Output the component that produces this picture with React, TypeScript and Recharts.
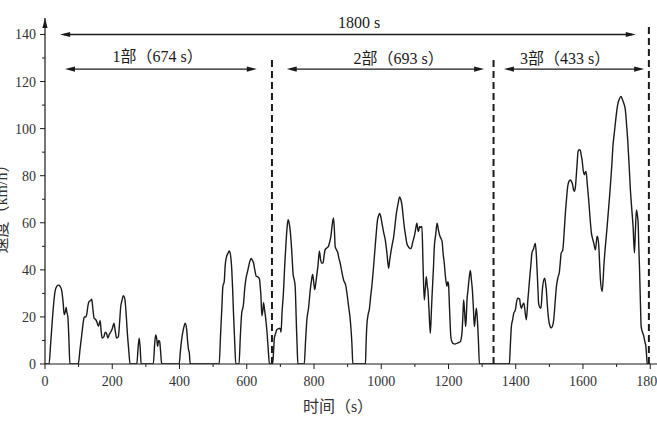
import React from 'react';
import { LineChart, Line, XAxis, YAxis, ReferenceLine, ReferenceDot } from 'recharts';

// ---- data (time s, speed km/h) ----
const part1: [number, number][] = [
  [0,0],[12,0],[17,9],[22,19],[26,26],[30,31],[35,33],[40,33.5],[45,33],[50,31],[54,26],[57,21],[60,22],[63,24],[65,22],[68,20],[71,11],[74,0],
  [99,0],[104,6],[109,12],[114,18],[117,20],[121,20],[124,21],[128,25],[131,26.5],[136,27],[139,27.5],[142,24],[146,19.5],[150,19],[154,18],[159,16],[164,18.5],[167,14],[170,11],[175,11.5],[179,13.5],[183,13],[187,11],[191,12.5],[195,13.5],[200,15],[205,17.3],[209,14],[213,11],[218,11.5],[222,18],[225,24],[229,27],[233,29],[237,28],[241,22],[245,13],[249,6],[253,0],
  [273,0],[277,7],[280,11],[283,7],[286,0],
  [322,0],[326,8],[329,12.3],[332,11],[335,7.5],[338,10],[341,9.5],[344,5],[347,0],
  [399,0],[403,6],[407,11],[412,15],[417,17.3],[421,15],[424,10],[427,6],[429,5],[432,0],
  [518,0],[522,12],[526,24],[529,33],[533,35],[536,42],[539,45],[544,47],[548,48],[552,46],[555.5,40],[558,32],[560.5,22],[564,10],[567.5,0],
  [577,0],[581,12],[585,21.5],[590,25],[594,32],[598,36.6],[602,39],[605,41],[609,43.5],[613,44.8],[617,44],[620,43],[624,40],[628,37.3],[633,37],[638,36],[640,33],[642,29.5],[645,20.5],[648,23],[650,26],[653,23],[655,21],[658,17],[660,14],[664,6],[667.5,0],
];

const part2: [number, number][] = [
  [677,0],[680,6],[682,11],[686,13],[689,14.5],[694,15],[699,15.2],[702,13.5],[705,22],[709,30],[713,42],[717,52],[720,58],[723,61.3],[726,60],[729,57],[732,52],[735,45],[738,38],[741,36],[744,33],[746,25],[748,15],[750,7],[752,0],
  [771,0],[775,10],[779,19],[784,24],[789,31.6],[793,36],[796,38],[799,35],[802,31.6],[805,34],[808,37.3],[812,42],[816,47.9],[820,44],[823,42.8],[827,43],[830,46],[833,48.5],[838,49.3],[843,50],[847,52],[850,54],[854,59],[858,62],[861,56],[863,50],[867,48.5],[870,47.7],[874,45],[878,42.8],[883,39],[888,35.7],[895,33],[899,29],[903,24.4],[907,20],[910,15],[913,8],[915.5,0],
  [953,0],[955,9],[957,16],[961,21],[965,23.7],[968,28],[972,33],[977,41],[982,50],[986,57],[989,61.2],[992,63],[995,64],[998,63],[1002,60],[1007,56],[1012,52.7],[1017,47],[1022,40.7],[1025,44],[1029,47.7],[1033,51],[1037,54],[1041,59],[1045,64],[1050,68],[1054.5,71],[1058,70],[1061.5,67.6],[1065,63],[1068.5,58.4],[1072,55],[1076,51.3],[1080,50],[1084,49.2],[1088,49],[1091,50],[1094,52],[1098,54],[1102,57],[1106,59.8],[1109,57],[1111,56.3],[1114,58.4],[1118,58],[1121,58.4],[1124,44],[1128,27.2],[1131,32],[1134,37.1],[1137,33],[1139,31],[1142,23],[1146,13],[1149,22],[1151,28.6],[1155,40],[1158,50],[1162,55],[1166,59.8],[1170,57],[1173.5,54.8],[1177,53.5],[1181,52],[1184,47],[1187.5,42.8],[1191,37],[1195.5,33],[1198,35],[1200,34],[1203,24],[1207,11.6],[1210,9.5],[1213,8.8],[1220,8.5],[1228,9],[1235,9.5],[1240,13],[1243,21],[1245,27.2],[1248,22],[1251,15.9],[1253,20],[1255,27],[1258,31.5],[1262,37],[1265,39.7],[1268,36],[1271,31.5],[1274,24],[1277,15.9],[1280,20],[1283,23.7],[1286,18.7],[1289,10],[1292,0],
];

const part3: [number, number][] = [
  [1381,0],[1384,8],[1387,15.9],[1391,19],[1394,21.5],[1399,23],[1402,26],[1406,28],[1411.5,27.5],[1414,25],[1417,23.7],[1420,25],[1424,25.8],[1428,22],[1431.5,18.8],[1436,27],[1441,35.7],[1445,42],[1448,47],[1453,49],[1458,51.3],[1461,47],[1463,41.4],[1466,32],[1468,25.8],[1472,24],[1475,23.7],[1478,29],[1480,32.9],[1486,36.4],[1489,34],[1491,31.5],[1494,25],[1498,18.8],[1502,16],[1505,15.3],[1509,16],[1513,18.8],[1517,26],[1521,32.9],[1526,37],[1530,39.3],[1533,44],[1535,47],[1540,48.5],[1544,56],[1547.6,64],[1551,70],[1554.5,75.4],[1558,77.5],[1562.5,78.2],[1566,77.5],[1569,76.3],[1572,74],[1575,73.4],[1578,76],[1580,79.8],[1583,86],[1585.3,90.3],[1589,91],[1592,90.8],[1595,88.5],[1597,87],[1601,82],[1604,80.4],[1607,81.5],[1609,81.8],[1613,76],[1617,69.7],[1621,62],[1625,55.7],[1629,53],[1632,51.4],[1637,48.5],[1642,54.3],[1645,53],[1647,50],[1650,41],[1652,35.7],[1657,30.8],[1660,36],[1662,41.4],[1667,50.6],[1671,57],[1675,64],[1679,71],[1682,76.8],[1686,85],[1689,92.4],[1693,98],[1696.4,102.4],[1700,107],[1703,110],[1708,112.5],[1713,113.7],[1717,112.5],[1721,110.9],[1726,108],[1730,101],[1733,95.2],[1737,85],[1741,74],[1745,66],[1749,58.4],[1753,47.2],[1756,57],[1759,65.5],[1762,63],[1764,60],[1766,50],[1768,41.4],[1771,25],[1773,16],[1777,13.5],[1781,11.7],[1784,9.5],[1787,7.5],[1789,4],[1791,0],[1800,0],
];

const xTicks = [0,100,200,300,400,500,600,700,800,900,1000,1100,1200,1300,1400,1500,1600,1700,1800];
const yTicks = [0,10,20,30,40,50,60,70,80,90,100,110,120,130,140];

// phase boundaries (dashed lines): time and top value
const boundaryTimes = [675, 1334, 1796];
const boundaryTops = [129.5, 130, 143.7];

// span arrows
const arrowFrom = [45, 59.5, 719, 1365];
const arrowTo = [1757, 630, 1306, 1782];
const arrowLevel = [140, 125.3, 125.3, 125.3];
const arrowDouble = [true, true, true, true];

// annotation texts
const noteTexts = ['1800 s', '1部（674 s）', '2部（693 s）', '3部（433 s）'];
const noteT = [934, 335, 1052, 1547];
const noteV = [145, 130.5, 130, 130];

const xLabel = '时间（s）';
const yLabel = '速度（km/h）';

const data = [...part1, ...part2, ...part3].map(([t, v]) => ({ t, v }));

const FONT = 'Times New Roman, Liberation Serif, DejaVu Serif, Noto Sans CJK SC, serif';
const INK = '#1a1a1a';

const XTick = (props: any) => {
  const { x, y, payload } = props;
  const major = payload.value % 200 === 0;
  return (
    <g>
      <line x1={x} x2={x} y1={y} y2={y + (major ? 5 : 3)} stroke={INK} strokeWidth={1} />
      {major && (
        <text x={x} y={y + 22} textAnchor="middle" fontSize={14} fontFamily={FONT} fill="#333">
          {payload.value}
        </text>
      )}
    </g>
  );
};

const YTick = (props: any) => {
  const { x, y, payload } = props;
  const major = payload.value % 20 === 0;
  return (
    <g>
      <line x1={x - (major ? 5 : 3)} x2={x} y1={y} y2={y} stroke={INK} strokeWidth={1} />
      {major && (
        <text x={x - 9} y={y + 5} textAnchor="end" fontSize={14} fontFamily={FONT} fill="#333">
          {payload.value}
        </text>
      )}
    </g>
  );
};

const arrowShape = (double: boolean) => (p: any) => {
  const { x1, y1, x2, y2 } = p;
  const L = 10, W = 2.6;
  const left = Math.min(x1, x2), right = Math.max(x1, x2);
  const yy = y1;
  return (
    <g>
      <line x1={left + (double ? 4 : 0)} x2={right - 4} y1={yy} y2={y2} stroke={INK} strokeWidth={1.3} />
      {double && <polygon points={`${left},${yy} ${left + L},${yy - W} ${left + L},${yy + W}`} fill={INK} />}
      <polygon points={`${right},${yy} ${right - L},${yy - W} ${right - L},${yy + W}`} fill={INK} />
    </g>
  );
};

const textShape = (txt: string) => (p: any) => (
  <text x={p.cx} y={p.cy} textAnchor="middle" dominantBaseline="central" fontSize={16} fontFamily={FONT} fill={INK}>
    {txt}
  </text>
);

const axisArrow = (p: any) => (
  <polygon points={`${p.cx},${p.cy} ${p.cx - 2.6},${p.cy + 10} ${p.cx + 2.6},${p.cy + 10}`} fill={INK} />
);

export default function App() {
  return (
    <div style={{ position: 'absolute', left: 0, top: 0, width: 657, height: 438, overflow: 'hidden', background: '#fff' }}>
      <LineChart width={662} height={438} data={data} margin={{ top: 18, right: 0, bottom: 0, left: 0 }}>
        <XAxis
          type="number"
          dataKey="t"
          domain={[0, 1835]}
          ticks={xTicks}
          interval={0}
          height={74}
          tickSize={0}
          tickMargin={0}
          tickLine={false}
          tick={<XTick />}
          axisLine={{ stroke: INK, strokeWidth: 1.2 }}
          allowDataOverflow
          label={{
            content: (lp: any) => {
              const vb = lp.viewBox || { x: 0, y: 364 };
              return (
                <text x={vb.x + 293} y={vb.y + 42} textAnchor="middle" dominantBaseline="central" fontSize={16} fontFamily={FONT} fill="#333">
                  {xLabel}
                </text>
              );
            },
          }}
        />
        <YAxis
          type="number"
          domain={[0, 147]}
          ticks={yTicks}
          interval={0}
          width={45}
          tickSize={0}
          tickMargin={0}
          tickLine={false}
          tick={<YTick />}
          axisLine={{ stroke: INK, strokeWidth: 1.2 }}
          allowDataOverflow
          label={{
            content: () => (
              <text x={1} y={205} textAnchor="middle" dominantBaseline="central" fontSize={16} fontFamily={FONT} fill="#333" transform="rotate(-90 1 205)">
                {yLabel}
              </text>
            ),
          }}
        />
        <ReferenceDot x={0} y={147} r={0} shape={axisArrow} ifOverflow="visible" />
        {boundaryTimes.map((bt, i) => (
          <ReferenceLine
            key={'b' + i}
            segment={[{ x: bt, y: 0 }, { x: bt, y: boundaryTops[i] }]}
            stroke={INK}
            strokeWidth={2}
            strokeDasharray="7 4"
            ifOverflow="visible"
          />
        ))}
        {arrowFrom.map((f, i) => (
          <ReferenceLine
            key={'a' + i}
            segment={[{ x: f, y: arrowLevel[i] }, { x: arrowTo[i], y: arrowLevel[i] }]}
            shape={arrowShape(arrowDouble[i])}
            ifOverflow="visible"
          />
        ))}
        {noteTexts.map((txt, i) => (
          <ReferenceDot key={'n' + i} x={noteT[i]} y={noteV[i]} r={0} shape={textShape(txt)} ifOverflow="visible" />
        ))}
        <Line type="monotone" dataKey="v" stroke={INK} strokeWidth={1.4} dot={false} isAnimationActive={false} />
      </LineChart>
    </div>
  );
}
